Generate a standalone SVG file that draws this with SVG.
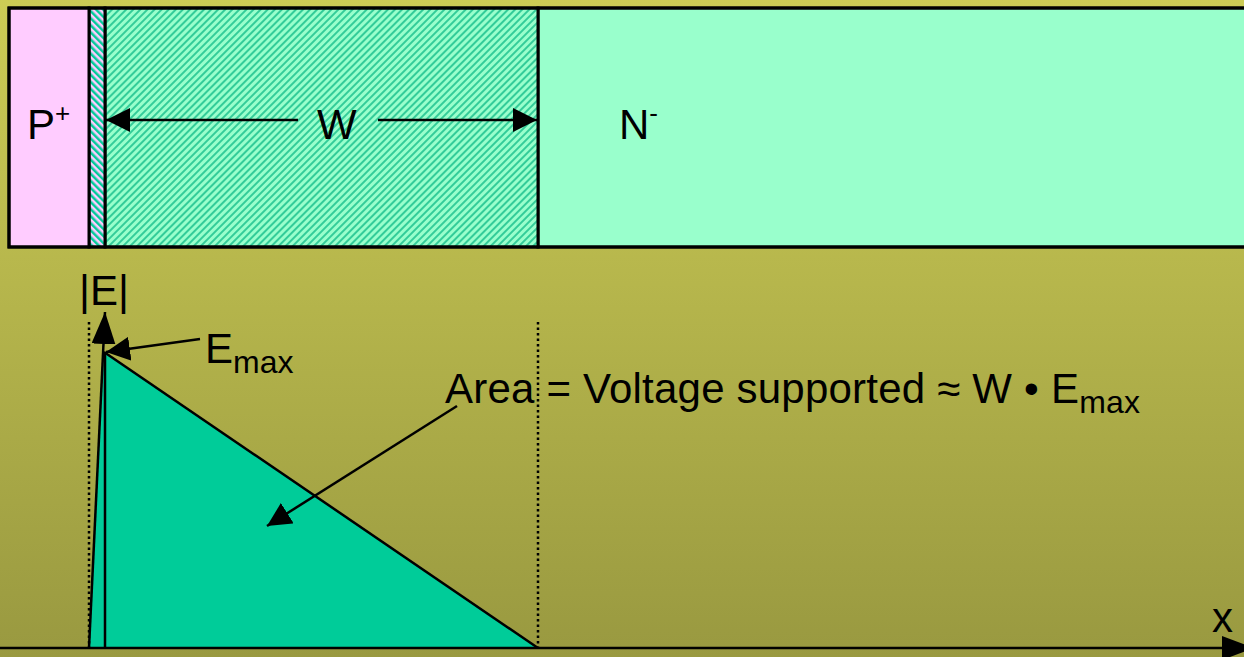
<svg xmlns="http://www.w3.org/2000/svg" width="1244" height="657" viewBox="0 0 1244 657">
<defs>
<linearGradient id="bg" x1="0" y1="0" x2="0" y2="1">
<stop offset="0" stop-color="#CCCC55"/>
<stop offset="1" stop-color="#999940"/>
</linearGradient>
<pattern id="hatchW" width="5" height="5" patternUnits="userSpaceOnUse" patternTransform="rotate(45)">
<rect width="5" height="5" fill="#99FFCC"/>
<rect width="2" height="5" fill="#33CC99"/>
</pattern>
<pattern id="hatchP" width="5" height="5" patternUnits="userSpaceOnUse" patternTransform="rotate(-45)">
<rect width="5" height="5" fill="#FFCCFF"/>
<rect width="2.5" height="5" fill="#00CC99"/>
</pattern>
<marker id="ahL" viewBox="0 0 24 24" refX="24" refY="12" markerWidth="24" markerHeight="24" markerUnits="userSpaceOnUse" orient="auto">
<path d="M0,0 L24,12 L0,24 z" fill="#000"/>
</marker>
<marker id="ahAx" viewBox="0 0 32 24" refX="32" refY="12" markerWidth="32" markerHeight="24" markerUnits="userSpaceOnUse" orient="auto">
<path d="M0,0 L32,12 L0,24 z" fill="#000"/>
</marker>
</defs>
<style>
text { font-family: "Liberation Sans", Arial, sans-serif; fill: #000; }
.lbl { font-size: 42px; }
.sub { font-size: 32px; }
.sup { font-size: 26px; }
.edge { stroke: #000; stroke-width: 2.5; fill: none; }
.dot { stroke: #000; stroke-width: 2.5; stroke-dasharray: 2.5 3; fill: none; }
</style>
<rect width="1244" height="657" fill="url(#bg)"/>

<g id="device">
<rect id="n-region" x="538" y="8" width="712" height="239" fill="#99FFCC" stroke="#000" stroke-width="3"/>
<rect id="w-region" x="105" y="8" width="433" height="239" fill="url(#hatchW)" stroke="#000" stroke-width="3"/>
<rect id="strip" x="89" y="8" width="16" height="239" fill="url(#hatchP)" stroke="#000" stroke-width="3"/>
<rect id="p-region" x="9" y="8" width="80" height="239" fill="#FFCCFF" stroke="#000" stroke-width="3"/>
<rect x="9" y="8" width="1240" height="239" fill="none" stroke="#000" stroke-width="3"/>
</g>

<g id="labels-top">
<text class="lbl" x="27" y="139">P<tspan class="sup" dy="-17">+</tspan></text>
<text class="lbl" x="317" y="139">W</text>
<text class="lbl" x="619" y="139">N<tspan class="sup" dy="-17">-</tspan></text>
</g>

<g id="graph">
<polygon id="area" points="89,648 104,352 538,648" fill="#00CC99" stroke="none"/>
<line x1="104" y1="352" x2="538" y2="648" stroke="#000" stroke-width="2.5"/>
<line x1="105" y1="352" x2="105" y2="648" stroke="#000" stroke-width="2.5"/>
<line class="dot" x1="89" y1="322" x2="89" y2="648"/>
<line class="dot" x1="538" y1="322" x2="538" y2="648"/>
</g>

<g id="connectors">
<line class="edge" x1="298" y1="120" x2="106" y2="120" marker-end="url(#ahL)"/>
<line class="edge" x1="378" y1="120" x2="537" y2="120" marker-end="url(#ahL)"/>
<line class="edge" x1="89" y1="648" x2="105" y2="312" marker-end="url(#ahAx)"/>
<line class="edge" x1="0" y1="648" x2="1254" y2="648" marker-end="url(#ahAx)"/>
<line class="edge" x1="200" y1="339" x2="106" y2="352" marker-end="url(#ahL)"/>
<line class="edge" x1="457" y1="406" x2="267" y2="526" marker-end="url(#ahL)"/>
</g>

<g id="labels-graph">
<text class="lbl" x="79" y="305">|E|</text>
<text class="lbl" x="205" y="363">E<tspan class="sub" dy="10">max</tspan></text>
<text class="lbl" x="445" y="403" textLength="695" lengthAdjust="spacing">Area = Voltage supported ≈ W • E<tspan class="sub" dy="10">max</tspan></text>
<text class="lbl" x="1212" y="632">x</text>
</g>
</svg>
